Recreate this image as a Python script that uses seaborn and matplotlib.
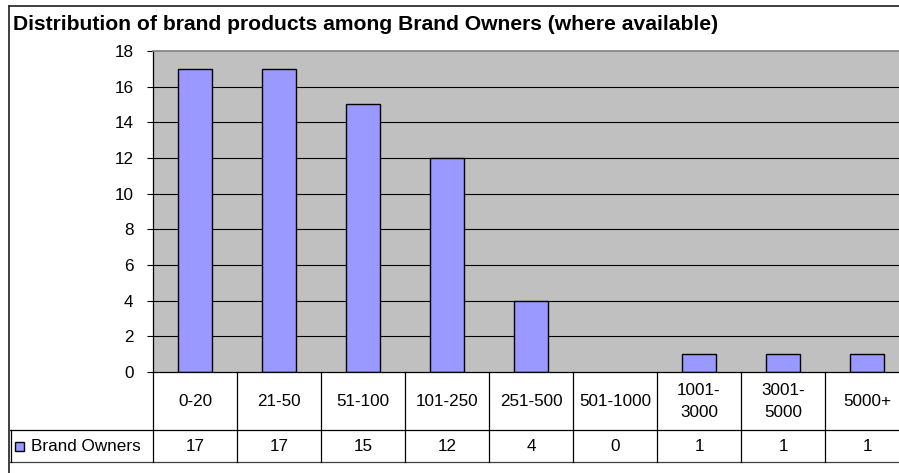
import matplotlib
matplotlib.use("Agg")
import matplotlib.pyplot as plt
from matplotlib.lines import Line2D
from matplotlib.patches import Rectangle
import seaborn as sns
import pandas as pd

# Data
categories = ["0-20", "21-50", "51-100", "101-250", "251-500",
              "501-1000", "1001-\n3000", "3001-\n5000", "5000+"]
brand_owners = [17, 17, 15, 12, 4, 0, 1, 1, 1]
series_name = "Brand Owners"
title = "Distribution of brand products among Brand Owners (where available)"
y_ticks = [0, 2, 4, 6, 8, 10, 12, 14, 16, 18]

BAR_COLOR = "#9999FF"
PLOT_BG = "#C0C0C0"
FS = 12.3

plt.rcParams["font.family"] = ["Liberation Sans", "DejaVu Sans"]

W, H = 899, 473
fig = plt.figure(figsize=(W / 100, H / 100), dpi=100)
fig.patch.set_facecolor("white")


def px_box(x0, y0, x1, y1):
    """Convert pixel box (top-left origin) into figure fraction rect."""
    return [x0 / W, 1 - y1 / H, (x1 - x0) / W, (y1 - y0) / H]


# Plot area (the last column runs past the right edge of the canvas)
ax = fig.add_axes(px_box(153, 51, 909, 372))
ax.set_facecolor(PLOT_BG)

df = pd.DataFrame({"range": categories, "count": brand_owners})
sns.barplot(data=df[df["count"] > 0], x="range", y="count", ax=ax,
            order=categories, color=BAR_COLOR,
            width=0.4, edgecolor="black", linewidth=1.0, saturation=1)

ax.set_xlim(-0.5, len(categories) - 0.5)
ax.set_ylim(0, 18)
ax.set_yticks(y_ticks)
ax.set_yticklabels([str(t) for t in y_ticks], fontsize=FS)
ax.set_xticks([])
ax.set_xlabel("")
ax.set_ylabel("")
ax.tick_params(axis="y", direction="out", length=4, width=0.8, pad=10,
               colors="black")
for t in y_ticks[1:-1]:
    ax.axhline(t, color="black", lw=0.8, zorder=0.5)
ax.set_axisbelow(True)
for side in ["right", "bottom"]:
    ax.spines[side].set_visible(False)
ax.spines["top"].set_color("#808080")
ax.spines["top"].set_linewidth(1.2)
ax.spines["left"].set_color("black")
ax.spines["left"].set_linewidth(0.9)

# Data table under the plot area, aligned with the category axis
tab = fig.add_axes(px_box(10, 372, 909, 463))
left_edge = -0.5 - 143 / 84
tab.set_xlim(left_edge, len(categories) - 0.5)
tab.set_ylim(91, 0)
tab.axis("off")

lw = 0.9
n = len(categories)
# horizontal rules
tab.plot([-0.5, n - 0.5], [0.4, 0.4], color="black", lw=lw, clip_on=False)
tab.plot([left_edge, n - 0.5], [58, 58], color="black", lw=lw,
         clip_on=False)
tab.plot([left_edge, n - 0.5], [90, 90], color="#404040", lw=lw,
         clip_on=False)
# vertical rules
for b in range(n + 1):
    tab.plot([b - 0.5, b - 0.5], [0, 90], color="black", lw=lw,
             clip_on=False)
tab.plot([left_edge + 0.01, left_edge + 0.01], [58, 90],
         color="black", lw=lw, clip_on=False)

for i, (cat, val) in enumerate(zip(categories, brand_owners)):
    tab.text(i, 29.5, cat, ha="center", va="center", fontsize=FS,
             linespacing=1.65)
    tab.text(i, 74.5, str(val), ha="center", va="center", fontsize=FS)

# legend key and series name in the first column
key_x = left_edge + 5 / 84
tab.add_patch(Rectangle((key_x, 69.5), 9 / 84, 9, facecolor=BAR_COLOR,
                        edgecolor="black", lw=1.0, clip_on=False))
tab.text(key_x + 16 / 84, 74.5, series_name, ha="left", va="center",
         fontsize=FS)

# Title
fig.text(13 / W, 1 - 24 / H, title, ha="left", va="center",
         fontsize=15.2, fontweight="bold")

# Chart frame
fig.add_artist(Line2D([8.5 / W, 1.0], [1 - 6.5 / H, 1 - 6.5 / H],
                      transform=fig.transFigure, color="#303030", lw=1.3))
fig.add_artist(Line2D([8.5 / W, 8.5 / W], [0.0, 1 - 6.5 / H],
                      transform=fig.transFigure, color="#303030", lw=1.3))

fig.savefig("out.png", dpi=100)
